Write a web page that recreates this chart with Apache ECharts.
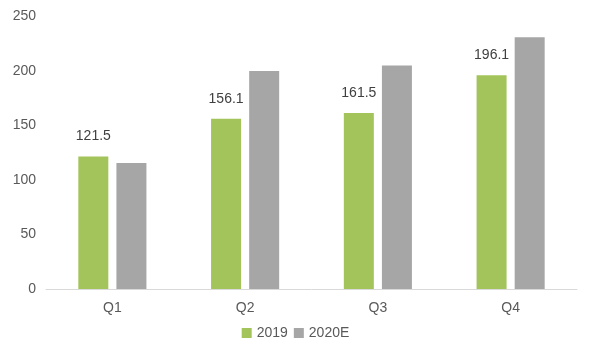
<!DOCTYPE html>
<html><head><meta charset="utf-8">
<script src="https://cdn.jsdelivr.net/npm/echarts@6/dist/echarts.min.js"></script>
<style>html,body{margin:0;padding:0;background:#fff}#c{width:591px;height:346px}</style>
</head><body><div id="c"></div>
<script>
const categories = ['Q1','Q2','Q3','Q4'];
const values2019 = [121.5,156.1,161.5,196.1];
const values2020E = [115.5,200,205,231];
const yTicks = [0,50,100,150,200,250];
const seriesNames = ['2019','2020E'];

const chart = echarts.init(document.getElementById('c'));
const font = 'Liberation Sans, Arial, sans-serif';
chart.setOption({
  animation:false,
  grid:{left:46,right:14,top:16.5,bottom:57,containLabel:false},
  legend:{data:seriesNames,bottom:1,left:'center',itemWidth:10,itemHeight:10,itemGap:6,icon:'rect',
    textStyle:{fontFamily:font,fontSize:14,color:'#595959'}},
  xAxis:{type:'category',data:categories,axisTick:{show:false},
    axisLine:{lineStyle:{color:'#d9d9d9',width:1}},
    axisLabel:{fontFamily:font,fontSize:14,color:'#595959',margin:12}},
  yAxis:{type:'value',min:yTicks[0],max:yTicks[yTicks.length-1],interval:50,
    splitLine:{show:false},axisLine:{show:false},axisTick:{show:false},
    axisLabel:{fontFamily:font,fontSize:14,color:'#595959',margin:10}},
  series:[
    {name:seriesNames[0],type:'bar',data:values2019,barWidth:30,barGap:'27%',
     itemStyle:{color:'#a2c45a'},
     label:{show:true,position:'top',distance:13,fontFamily:font,fontSize:14,color:'#404040'}},
    {name:seriesNames[1],type:'bar',data:values2020E,barWidth:30,
     itemStyle:{color:'#a6a6a6'}}
  ]
});
</script></body></html>
